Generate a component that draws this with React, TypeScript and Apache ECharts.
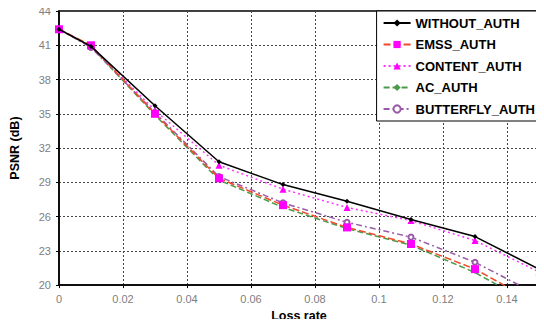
import React, { useEffect, useRef } from "react";
import * as echarts from "echarts";

const lossRates = [0, 0.01, 0.03, 0.05, 0.07, 0.09, 0.11, 0.13, 0.15];
const withoutAuth = [42.4, 40.9, 35.7, 30.8, 28.8, 27.35, 25.75, 24.25, 21.4];
const emssAuth = [42.4, 41.0, 35.0, 29.35, 27.0, 25.05, 23.6, 21.4, 18.3];
const contentAuth = [42.4, 40.9, 35.3, 30.5, 28.4, 26.8, 25.65, 23.9, 21.15];
const acAuth = [42.4, 40.9, 34.9, 29.2, 26.8, 24.95, 23.5, 21.1, 18.0];
const butterflyAuth = [42.4, 40.8, 35.1, 29.5, 27.2, 25.5, 24.2, 22.0, 19.1];
const seriesNames = ["WITHOUT_AUTH", "EMSS_AUTH", "CONTENT_AUTH", "AC_AUTH", "BUTTERFLY_AUTH"];

const pairs = (ys: number[]) => lossRates.map((x, i) => [x, ys[i]]);

export default function App() {
  const ref = useRef<HTMLDivElement>(null);
  useEffect(() => {
    const chart = echarts.init(ref.current!, null, { renderer: "svg" });
    const font = "Arial, 'Liberation Sans', sans-serif";
    chart.setOption({
      animation: false,
      backgroundColor: "#ffffff",
      textStyle: { fontFamily: font },
      grid: {
        left: 57,
        right: 5,
        top: 11,
        bottom: 40,
        show: true,
        borderColor: "#000",
        borderWidth: 1.5,
        backgroundColor: "transparent",
      },
      legend: {
        orient: "vertical",
        right: 6,
        top: 11,
        backgroundColor: "#fff",
        borderColor: "#000",
        borderWidth: 1,
        borderRadius: 0,
        padding: [5, 3, 5, 6],
        itemWidth: 27,
        itemHeight: 9,
        itemGap: 7.5,
        textStyle: { fontFamily: font, fontWeight: "bold", fontSize: 13, color: "#000", lineHeight: 14 },
        data: seriesNames,
      },
      xAxis: {
        type: "value",
        min: 0,
        max: 0.15,
        interval: 0.02,
        name: "Loss rate",
        nameLocation: "middle",
        nameGap: 23,
        nameTextStyle: { fontFamily: font, fontWeight: "bold", fontSize: 12.5, color: "#000" },
        axisLine: { show: true, lineStyle: { color: "#000", width: 1.5 } },
        axisTick: { show: true, length: 3, lineStyle: { color: "#000" } },
        axisLabel: { color: "#808080", fontSize: 11, margin: 8, showMaxLabel: false, formatter: (v: number) => String(+v.toFixed(2)) },
        splitLine: { show: true, lineStyle: { color: "#444", type: [2, 2], width: 1 } },
      },
      yAxis: {
        type: "value",
        min: 20,
        max: 44,
        interval: 3,
        name: "PSNR (dB)",
        nameLocation: "middle",
        nameGap: 38,
        nameTextStyle: { fontFamily: font, fontWeight: "bold", fontSize: 12.5, color: "#000" },
        axisLine: { show: true, lineStyle: { color: "#000", width: 1.5 } },
        axisTick: { show: true, length: 3, lineStyle: { color: "#000" } },
        axisLabel: { color: "#808080", fontSize: 11, margin: 8 },
        splitLine: { show: true, lineStyle: { color: "#444", type: [2, 2], width: 1 } },
      },
      series: [
        {
          name: "WITHOUT_AUTH",
          type: "line",
          data: pairs(withoutAuth),
          symbol: "diamond",
          symbolSize: 5,
          itemStyle: { color: "#000" },
          lineStyle: { color: "#000", width: 1.5, type: "solid" },
          z: 5,
        },
        {
          name: "EMSS_AUTH",
          type: "line",
          data: pairs(emssAuth),
          symbol: "rect",
          symbolSize: 8,
          itemStyle: { color: "#ff00ff" },
          lineStyle: { color: "#f04a2a", width: 1.5, type: [7, 3] },
          z: 4,
        },
        {
          name: "CONTENT_AUTH",
          type: "line",
          data: pairs(contentAuth),
          symbol: "triangle",
          symbolSize: 7,
          itemStyle: { color: "#ff00ff" },
          lineStyle: { color: "#ff33ff", width: 1.5, type: [2, 3] },
          z: 3,
        },
        {
          name: "AC_AUTH",
          type: "line",
          data: pairs(acAuth),
          symbol: "diamond",
          symbolSize: 3,
          itemStyle: { color: "#4a9a4a" },
          lineStyle: { color: "#4a9a4a", width: 1.5, type: [6, 3] },
          z: 2,
        },
        {
          name: "BUTTERFLY_AUTH",
          type: "line",
          data: pairs(butterflyAuth),
          symbol: "emptyCircle",
          symbolSize: 5,
          itemStyle: { color: "#9a5aa8", borderColor: "#9a5aa8" },
          lineStyle: { color: "#9a5aa8", width: 1.5, type: [6, 3, 2, 3] },
          z: 3,
        },
      ],
    });
    return () => chart.dispose();
  }, []);
  return <div ref={ref} style={{ width: 544, height: 327, margin: -8 }} />;
}
